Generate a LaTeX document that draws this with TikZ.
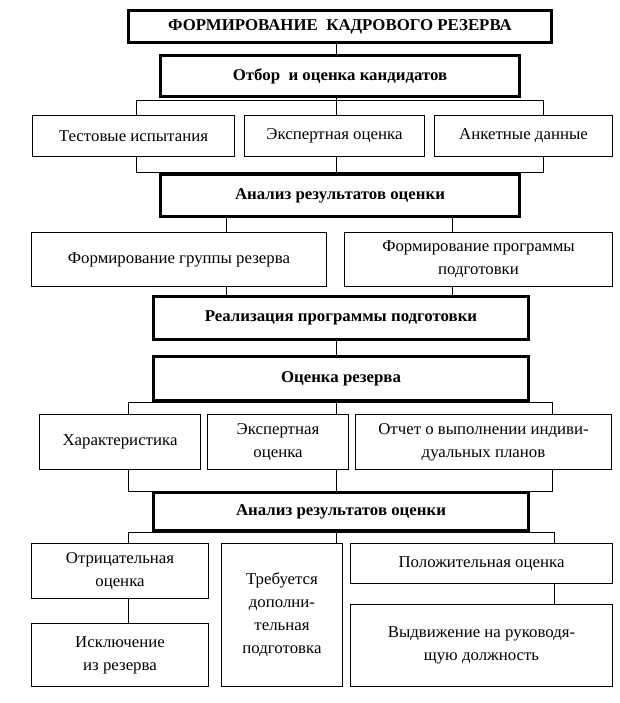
\documentclass[tikz,border=0pt]{standalone}
\usepackage{fontspec}
\setmainfont[FakeStretch=1.02]{Liberation Serif}
\begin{document}
\begin{tikzpicture}[x=1pt,y=-1pt,
  box/.style={draw,line width=0.8pt,align=center,inner sep=2pt,font=\fontsize{16.5}{23}\selectfont},
  hbox/.style={draw,line width=2.4pt,align=center,inner sep=2pt,font=\bfseries\fontsize{16.5}{20}\selectfont},
  conn/.style={line width=0.8pt}]
\useasboundingbox[fill=white] (0,0) rectangle (619,703);
\def\bx#1#2#3#4#5#6#7{\node[#1,minimum width={#4-#3-1},minimum height={#6-#5-1}] (#2) at ({(#3+#4)/2},{(#5+#6)/2}) {#7};}
\bx{hbox}{title}{128}{552}{10}{43}{ФОРМИРОВАНИЕ\ \ КАДРОВОГО РЕЗЕРВА}
\bx{hbox}{otbor}{160}{520}{55}{97}{Отбор\ \ и оценка кандидатов}
\bx{box}{tests}{32}{235}{115}{157}{Тестовые испытания}
\bx{box}{exp}{244}{425}{115}{157}{Экспертная оценка}
\bx{box}{anketa}{434}{613}{115}{157}{Анкетные данные}
\bx{hbox}{an1}{160}{520}{174}{217}{Анализ результатов оценки}
\bx{box}{fgr}{31}{327}{232}{287}{Формирование группы резерва}
\bx{box}{fpr}{344}{613}{232}{287}{Формирование программы\\подготовки}
\bx{hbox}{real}{153}{529}{296}{340}{Реализация программы подготовки}
\bx{hbox}{ocen}{153}{529}{356}{401}{Оценка резерва}
\bx{box}{har}{39}{201}{414}{470}{Характеристика}
\bx{box}{exp2}{207}{349}{414}{470}{Экспертная\\оценка}
\bx{box}{otch}{355}{612}{414}{470}{Отчет о выполнении индиви-\\дуальных планов}
\bx{hbox}{an2}{153}{529}{492}{531}{Анализ результатов оценки}
\bx{box}{otr}{31}{209}{543}{599}{Отрицательная\\оценка}
\bx{box}{treb}{221}{343}{543}{687}{Требуется\\дополни-\\тельная\\подготовка}
\bx{box}{pol}{350}{613}{543}{584}{Положительная оценка}
\bx{box}{iskl}{31}{209}{623}{687}{Исключение\\из резерва}
\bx{box}{vyd}{350}{613}{604}{687}{Выдвижение на руководя-\\щую должность}
% connectors
\draw[conn] (title.south -| 336,0) -- (otbor.north -| 336,0);
\draw[conn] (tests.north -| 136,0) |- (543,100) -- (anketa.north -| 543,0);
\draw[conn] (otbor.south -| 336,0) -- (exp.north -| 336,0);
\draw[conn] (tests.south -| 136,0) |- (543,172) -- (anketa.south -| 543,0);
\draw[conn] (exp.south -| 336,0) -- (an1.north -| 336,0);
\draw[conn] (an1.south -| 226,0) -- (fgr.north -| 226,0);
\draw[conn] (an1.south -| 452,0) -- (fpr.north -| 452,0);
\draw[conn] (fgr.south -| 226,0) -- (real.north -| 226,0);
\draw[conn] (fpr.south -| 452,0) -- (real.north -| 452,0);
\draw[conn] (real.south -| 336,0) -- (ocen.north -| 336,0);
\draw[conn] (har.north -| 128,0) |- (552,402) -- (otch.north -| 552,0);
\draw[conn] (ocen.south -| 336,0) -- (exp2.north -| 336,0);
\draw[conn] (har.south -| 128,0) |- (552,491) -- (otch.south -| 552,0);
\draw[conn] (exp2.south -| 336,0) -- (an2.north -| 336,0);
\draw[conn] (otr.north -| 128,0) |- (554,532) -- (pol.north -| 554,0);
\draw[conn] (an2.south -| 336,0) -- (treb.north -| 336,0);
\draw[conn] (otr.south -| 128,0) -- (iskl.north -| 128,0);
\draw[conn] (pol.south -| 554,0) -- (vyd.north -| 554,0);
\end{tikzpicture}
\end{document}
